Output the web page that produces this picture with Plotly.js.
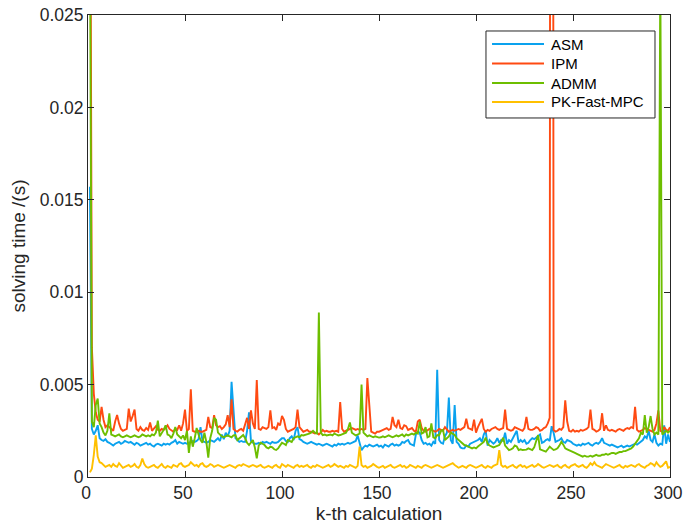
<!DOCTYPE html>
<html><head><meta charset="utf-8">
<script src="https://cdn.plot.ly/plotly-3.0.1.min.js"></script>
<style>html,body{margin:0;padding:0;background:#fff}#chart{width:683px;height:530px}</style>
</head><body><div id="chart"></div>
<script>
// Series names
const seriesNames = ['ASM', 'IPM', 'ADMM', 'PK-Fast-MPC'];
// Solving time per calculation, microseconds (k = 1..300)
const asmUs = [
15700,2600,2300,2500,2800,2100,2000,1950,2050,1900,
1850,1750,1700,1800,1850,1900,1800,1850,1950,1900,
1850,1900,1800,1750,1850,1800,1700,1750,1800,1850,
1750,1800,1700,1650,1750,1800,1750,1700,1800,1750,
1800,1750,1850,1900,2000,1800,1900,1850,1800,1850,
1800,1850,1900,1950,1900,1950,2050,2700,1950,1900,
1850,1900,2000,1950,1900,2000,2100,1950,2300,2050,
2400,2200,2500,5150,3400,2100,2000,1900,1950,1900,
1900,2500,3500,1950,1850,1800,1800,1850,1800,1900,
1850,1900,1850,1800,1900,1850,1850,1900,2000,2100,
2100,1950,1900,2100,2200,2000,2500,2700,2050,2000,
1900,1850,1800,1850,1900,1850,1800,1750,1800,1750,
1700,1750,1800,1750,1700,1650,1750,1700,1800,1750,
1800,1750,1800,1850,1800,1850,1900,1950,2250,1850,
1450,1600,1700,1650,1750,1700,1650,1700,1750,1650,
1700,1600,1750,1700,1650,1750,1800,1700,1750,1700,
1750,1900,1850,1950,2000,1800,1750,1700,2300,2450,
2400,2000,1800,1850,1750,1800,1700,1900,1800,5800,
2000,1850,1800,2200,2400,4300,2000,1800,3900,1900,
1800,1600,1550,1550,1700,1650,1800,1850,1900,1950,
2000,2100,1900,2300,2500,1700,2000,1900,1800,1900,
2100,1850,2000,1950,2400,1800,2000,1900,2100,2300,
2500,1850,2000,1900,2000,1800,1850,2000,2100,2050,
2150,2200,2300,1850,1900,2000,2050,1950,2750,2400,
1900,1950,2000,2100,1900,1850,2000,1950,1900,1800,
1750,1700,1750,1700,1800,1750,1800,1850,1750,1700,
1800,1850,1800,1900,2100,1850,1800,1750,1700,1750,
1700,1650,1600,1650,1700,1600,1650,1700,1650,1700,
1750,1800,1750,1850,1900,2000,2200,2100,2500,2000,
1900,2300,1850,1700,1800,1750,2800,1800,2300,1900];
const ipmUs = [
40000,7000,4500,3500,3100,3000,3800,3100,2700,2800,
2700,2600,2500,3000,3350,2900,2600,2500,2550,2600,
3700,3000,3300,3650,2600,2500,2700,2550,2500,2650,
2550,2950,2500,2600,2750,2550,2500,2600,2550,2650,
2800,2600,2500,2450,2600,2550,2800,2500,2900,3650,
2500,2600,4750,2500,2450,2450,2500,2450,2450,2500,
2550,3250,2700,2650,3350,2800,2700,2750,2600,2700,
2850,3350,2700,4200,2600,2500,2450,2550,2600,2500,
2800,3200,2600,3600,2900,2600,5250,2600,2550,2700,
2650,2600,2700,3600,2650,2700,2550,2900,2800,3300,
3100,2600,2450,2500,2550,2600,2700,3650,2700,2550,
2450,2500,2550,2450,2450,2400,2350,2400,2300,2400,
2550,2450,2500,2450,2450,2500,2450,2500,2450,4050,
2600,2450,2500,2550,2600,2650,2600,2550,2600,2550,
2600,2550,2600,5350,3900,2450,2400,2350,2450,2450,
2500,2550,2600,2650,2550,2600,3250,2800,2700,3100,
2650,2600,2800,2750,2550,2600,2650,2500,2450,3000,
3100,2650,2500,2450,2550,2600,2550,2500,2450,2500,
2600,2550,2500,2700,2600,2450,2500,2550,2500,2550,
2600,2550,2650,2700,3150,2650,2600,2550,3100,2400,
2700,2900,3150,2600,2450,2550,2500,2600,2650,2700,
2600,2550,2600,2650,3650,2600,2550,2500,2550,2700,
2650,2600,2550,2500,2650,3250,2600,2550,2550,2600,
2700,2650,2500,2550,2650,2700,2900,3200,150000,2550,
2450,2500,2600,2550,2700,4150,3000,2500,2450,2550,
2450,2500,2450,2550,2500,2550,2600,2700,3650,2600,
2550,2450,2500,2600,3450,2500,2800,2550,2500,2550,
2500,2450,2550,2600,2550,2500,2600,2650,2600,2700,
2650,3800,2550,2450,2500,2550,2650,2600,2550,2500,
2450,2550,2900,3600,2500,2450,2700,2550,2500,2700];
const admmUs = [
30000,3000,2700,3900,4250,2900,2700,2400,2250,2500,
3450,2300,2250,2200,2250,2300,2200,2150,2200,2250,
2200,2150,2200,2250,2200,2150,2200,2300,2250,2200,
2250,2200,2300,2250,2400,3050,2200,2350,2550,2800,
2300,2250,2100,2350,2700,2300,2200,2100,2250,2000,
2500,1300,2200,1640,2100,2650,2300,2000,1850,2400,
1900,1050,2100,2500,3200,3100,2400,2270,2200,2150,
2200,2250,2200,2150,2250,2270,2000,2100,2200,2270,
2100,1850,1730,1900,2000,1600,1010,1700,1850,1800,
1730,1600,1550,1640,1600,1500,1460,1550,1700,1850,
1800,1730,2000,1950,1900,2100,2130,2200,2150,2270,
2250,2270,2300,2350,2400,2500,2400,2350,8900,2400,
2270,2300,2250,2270,2300,2250,2350,2300,2250,2270,
2300,2350,2400,2600,2950,2400,2300,2250,2300,2350,
5000,2400,2300,2200,2250,2200,2150,2200,2150,2130,
2150,2200,2150,2200,2250,2200,2150,2200,2250,2200,
2250,2300,2200,2300,2250,2300,2350,2300,2400,2350,
3000,2350,2400,2700,2150,2200,2900,2150,2100,2270,
2250,2500,2550,2000,2100,2200,2400,2350,2270,2100,
2000,1900,1850,1730,1700,1640,1600,1550,1600,1550,
1650,1750,1800,1900,2130,1800,1700,1640,1600,1640,
1700,1730,1900,2130,1700,1600,1460,1500,1550,1700,
1650,1460,1500,1460,1450,1480,1550,1500,1460,1600,
1900,2270,1500,1460,1400,1370,1500,1640,1550,1460,
1500,1550,1700,1900,1750,1550,1500,1460,1400,1370,
1300,1250,1200,1150,1100,1150,1100,1100,1150,1100,
1150,1200,1150,1150,1200,1200,1250,1200,1250,1300,
1300,1250,1300,1350,1350,1400,1400,1450,1500,1550,
1650,1800,1900,2100,2400,2300,3350,2400,2700,3300,
2600,2300,2400,2300,27500,2300,2400,2500,2400,2500];
const pkUs = [
250,450,1200,2250,1100,800,750,650,550,600,
650,550,700,600,550,750,600,500,550,600,
650,550,600,700,550,500,650,1000,700,550,
500,550,600,650,550,500,600,700,550,500,
600,550,500,650,600,550,700,750,600,550,
600,650,800,700,600,650,550,700,750,600,
550,600,700,650,550,600,650,600,550,500,
550,600,650,600,550,500,600,650,600,700,
650,600,550,600,650,600,550,600,650,550,
500,550,600,550,500,600,650,550,500,700,
600,550,650,600,550,500,600,650,550,600,
550,600,650,550,500,600,550,650,600,550,
500,550,600,650,550,600,700,600,550,600,
550,500,600,550,650,600,550,500,600,1650,
650,550,600,500,550,600,700,600,550,500,
550,600,500,550,600,650,550,500,550,600,
650,550,600,500,550,650,600,550,500,600,
550,500,600,650,600,550,500,550,600,650,
600,550,500,550,600,650,700,750,650,550,
500,550,600,550,500,600,650,600,550,500,
550,600,650,550,500,600,550,500,600,650,
700,1450,650,550,600,500,550,600,650,550,
500,600,650,550,600,500,550,600,650,550,
600,700,600,550,500,550,600,650,600,550,
600,650,550,500,600,650,550,500,600,650,
700,600,550,600,650,550,500,600,750,650,
800,650,600,550,500,600,700,650,600,550,
500,550,600,650,550,500,600,550,600,650,
600,550,650,700,600,550,500,600,650,750,
700,600,800,650,550,600,700,850,500,550];
const seriesColors = ['#0AA2EE', '#FF4A12', '#6DBE00', '#FFC000'];
const xTickVals = [0, 50, 100, 150, 200, 250, 300];
const xTickText = ['0', '50', '100', '150', '200', '250', '300'];
const yTickVals = [0, 0.005, 0.01, 0.015, 0.02, 0.025];
const yTickText = ['0', '0.005', '0.01', '0.015', '0.02', '0.025'];

const allSeries = [asmUs, ipmUs, admmUs, pkUs];
const traces = allSeries.map((arr, i) => ({
  type: 'scatter', mode: 'lines', name: seriesNames[i],
  x: arr.map((_, j) => j + 1),
  y: arr.map(v => v / 1e6),
  line: {color: seriesColors[i], width: 1.9},
  showlegend: false
}));

// Legend box (MATLAB style) drawn in paper coordinates
const legBox = {x0: 0.6838, x1: 0.9742, y0: 0.7771, y1: 0.9654};
const legRowY = [0.9372, 0.8950, 0.8528, 0.8117];
const legLineX = [0.6942, 0.7835];
const legTextX = 0.7921;
const shapes = [{type: 'rect', xref: 'paper', yref: 'paper', layer: 'above',
  x0: legBox.x0, x1: legBox.x1, y0: legBox.y0, y1: legBox.y1,
  fillcolor: '#ffffff', line: {color: '#262626', width: 1}}];
const annotations = [];
seriesNames.forEach((nm, i) => {
  shapes.push({type: 'line', xref: 'paper', yref: 'paper', layer: 'above',
    x0: legLineX[0], x1: legLineX[1], y0: legRowY[i], y1: legRowY[i],
    line: {color: seriesColors[i], width: 1.9}});
  annotations.push({xref: 'paper', yref: 'paper', x: legTextX, y: legRowY[i],
    xanchor: 'left', yanchor: 'middle', showarrow: false, text: nm,
    font: {size: 15, color: '#000000'}});
});

const axisCommon = {
  ticks: 'inside', ticklen: 6, tickwidth: 1, tickcolor: '#262626',
  showline: true, linecolor: '#262626', linewidth: 1, mirror: 'ticks',
  showgrid: false, zeroline: false,
  tickfont: {size: 17.5, color: '#262626'}
};
const layout = {
  width: 683, height: 530,
  margin: {l: 88, r: 13, t: 15, b: 53},
  paper_bgcolor: '#ffffff', plot_bgcolor: '#ffffff',
  font: {family: '"Liberation Sans", Arial, sans-serif', size: 17, color: '#262626'},
  showlegend: false,
  shapes: shapes,
  annotations: annotations,
  xaxis: Object.assign({}, axisCommon, {range: [0, 300], tickvals: xTickVals, ticktext: xTickText,
    ticklabeloverflow: 'allow', ticklabelshift: -2,
    title: {text: 'k-th calculation', font: {size: 19, color: '#262626'}, standoff: 4}}),
  yaxis: Object.assign({}, axisCommon, {range: [0, 0.025], tickvals: yTickVals, ticktext: yTickText,
    title: {text: 'solving time /(s)', font: {size: 19, color: '#262626'}, standoff: 9}})
};
Plotly.newPlot('chart', traces, layout, {displayModeBar: false, staticPlot: true});
</script>
</body></html>
